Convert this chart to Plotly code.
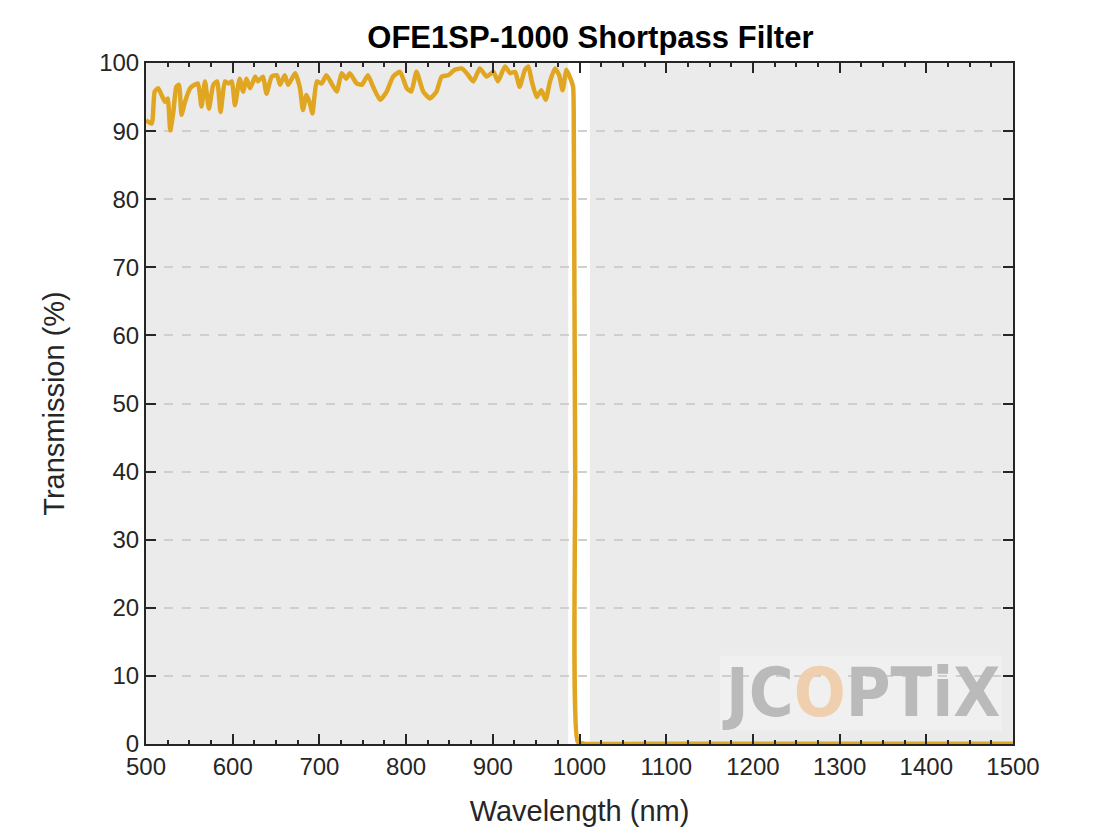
import plotly.graph_objects as go

# wavelength (nm) and transmission (%)
wavelength = [500, 506.6, 510, 514, 518, 522, 525, 528, 531.5, 535, 538, 541, 545, 551, 556, 560, 564,
              568, 572.6, 577.6, 582, 586, 591, 595, 599, 602.6, 608, 612, 616, 620, 626, 629, 635, 639,
              645, 651, 654.6, 660, 664, 672, 677.6, 681, 685, 689, 692, 697, 702.6, 708, 714, 720,
              725.7, 731, 735, 743, 749, 756, 762, 770, 777.6, 785, 793, 800.7, 806, 812, 819.8, 827.6,
              835, 841, 848.6, 856, 864, 870, 877.5, 885, 893, 900.7, 906, 914, 920, 925.6, 931, 937,
              941, 945, 950.6, 956, 961, 966, 971.7, 976.6, 980.5, 985, 989.6, 992.6, 993.5, 995, 998,
              1005, 1100, 1200, 1300, 1400, 1500]
transmission = [91.6, 91.1, 95.8, 96.3, 95.3, 94.3, 94.8, 90.1, 92.8, 96.5, 96.8, 92.4, 94.3, 96.3, 96.8,
                97.0, 93.6, 97.3, 93.3, 96.8, 97.3, 92.8, 97.3, 97.0, 97.3, 93.8, 97.7, 95.8, 97.7, 96.3,
                98.0, 97.3, 98.0, 95.5, 98.0, 98.2, 96.8, 98.2, 96.8, 98.5, 96.3, 93.1, 95.3, 94.1, 92.6,
                97.3, 97.0, 98.2, 97.0, 95.8, 98.5, 97.7, 98.5, 97.0, 96.8, 98.2, 96.5, 94.6, 95.8, 98.0,
                98.7, 96.3, 95.8, 98.7, 95.8, 94.8, 95.8, 98.0, 98.2, 99.0, 99.2, 98.5, 97.3, 99.2, 98.0,
                98.7, 97.3, 99.5, 98.5, 98.7, 96.5, 99.0, 99.5, 97.3, 95.0, 96.0, 94.6, 97.3, 99.2, 98.2,
                96.0, 99.0, 97.7, 96.5, 88.0, 40.0, 0.3, 0.05, 0.05, 0.05, 0.05, 0.05, 0.05]

fig = go.Figure()
fig.add_trace(go.Scatter(x=wavelength, y=transmission, mode="lines",
                         line=dict(color="#e0a622", width=4.5, shape="spline", smoothing=0.5),
                         showlegend=False))

# white cutoff band
fig.add_shape(type="rect", x0=987, x1=1012, y0=0, y1=100, xref="x", yref="y",
              fillcolor="white", line_width=0, layer="below")

# watermark
fig.add_shape(type="rect", x0=1162, x1=1487, y0=2, y1=13, xref="x", yref="y",
              fillcolor="#f0f0f0", line_width=0, layer="below")
fig.add_annotation(x=1325, y=7.5, xref="x", yref="y", xanchor="center", yanchor="middle",
                   showarrow=False,
                   text="<b>JC<span style='color:#f0cfae'>O</span>PTiX</b>",
                   font=dict(family="DejaVu Sans Condensed, Liberation Sans Narrow", size=68, color="#bababa"))

axis_common = dict(showline=True, linecolor="#262626", linewidth=2, mirror="ticks",
                   ticks="inside", ticklen=10, tickwidth=2, tickcolor="#262626",
                   tickfont=dict(size=24, color="#262626"), zeroline=False, automargin=False)
fig.update_xaxes(range=[500, 1500], dtick=100, showgrid=False,
                 minor=dict(ticks="inside", dtick=25, ticklen=4, tickcolor="#262626", tickwidth=2),
                 title=dict(text="Wavelength (nm)", font=dict(size=29, color="#262626"), standoff=22),
                 **axis_common)
fig.update_yaxes(range=[0, 100], dtick=10, showgrid=True, gridcolor="#cfcfcf", gridwidth=2,
                 griddash="dash",
                 title=dict(text="Transmission (%)", font=dict(size=29, color="#262626"), standoff=26),
                 **axis_common)

fig.update_layout(
    width=1120, height=840,
    title=dict(text="<b>OFE1SP-1000 Shortpass Filter</b>", x=0.52, xanchor="center",
               y=0.965, yanchor="middle", font=dict(size=31, color="black"), automargin=False),
    font=dict(family="Liberation Sans, Arial, sans-serif"),
    plot_bgcolor="#ebebeb", paper_bgcolor="white",
    margin=dict(l=138, r=115, t=55, b=104),
)
fig.write_html("out.html")
